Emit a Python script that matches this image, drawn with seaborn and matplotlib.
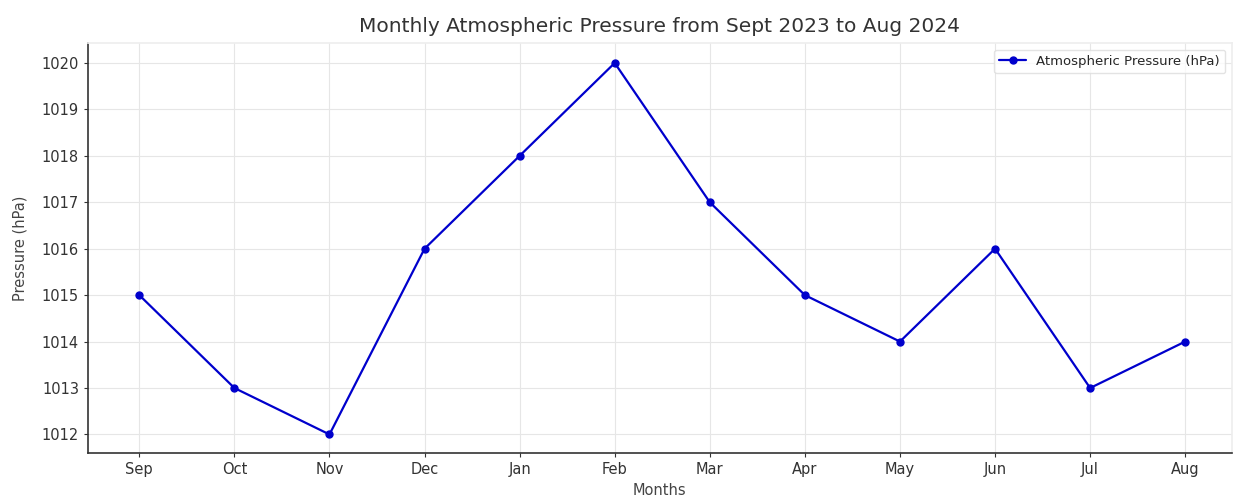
import matplotlib
matplotlib.use("Agg")
import matplotlib.pyplot as plt
import seaborn as sns
import pandas as pd

months = ["Sep", "Oct", "Nov", "Dec", "Jan", "Feb", "Mar", "Apr", "May", "Jun", "Jul", "Aug"]
pressure = [1015, 1013, 1012, 1016, 1018, 1020, 1017, 1015, 1014, 1016, 1013, 1014]

df = pd.DataFrame({"Months": months, "Pressure": pressure})

sns.set_theme(style="whitegrid")
plt.rcParams['font.family'] = ['DejaVu Sans']

fig = plt.figure(figsize=(12.46, 4.97), dpi=100)
ax = fig.add_axes([0.0706, 0.0885, 0.918, 0.825])

ax.plot(range(len(months)), df["Pressure"], color="#0000cc", marker="o", markersize=5,
        linewidth=1.6, label="Atmospheric Pressure (hPa)")
ax.set_xticks(range(len(months)))
ax.set_xticklabels(months)
ax.set_xlim(-0.54, 11.49)
ax.set_ylim(1011.6, 1020.43)
ax.set_yticks(range(1012, 1021))

ax.set_title("Monthly Atmospheric Pressure from Sept 2023 to Aug 2024", fontsize=14.5, color="#333333", pad=8)
ax.set_xlabel("Months", fontsize=10.5, color="#444444", labelpad=4)
ax.set_ylabel("Pressure (hPa)", fontsize=10.5, color="#444444", labelpad=10)
ax.tick_params(axis="both", labelsize=10.5, colors="#333333", length=3, width=0.8, left=True, bottom=True)
ax.tick_params(axis="both", labelcolor="#333333")

ax.grid(True, color="#e6e6e6", linewidth=0.8)
for s in ["left", "bottom"]:
    ax.spines[s].set_color("#333333")
    ax.spines[s].set_linewidth(1.2)
for s in ["top", "right"]:
    ax.spines[s].set_color("#eeeeee")

leg = ax.legend(loc="upper right", fontsize=9.5, frameon=True)
leg.get_frame().set_edgecolor("#dddddd")

fig.savefig("out.png", dpi=100)
